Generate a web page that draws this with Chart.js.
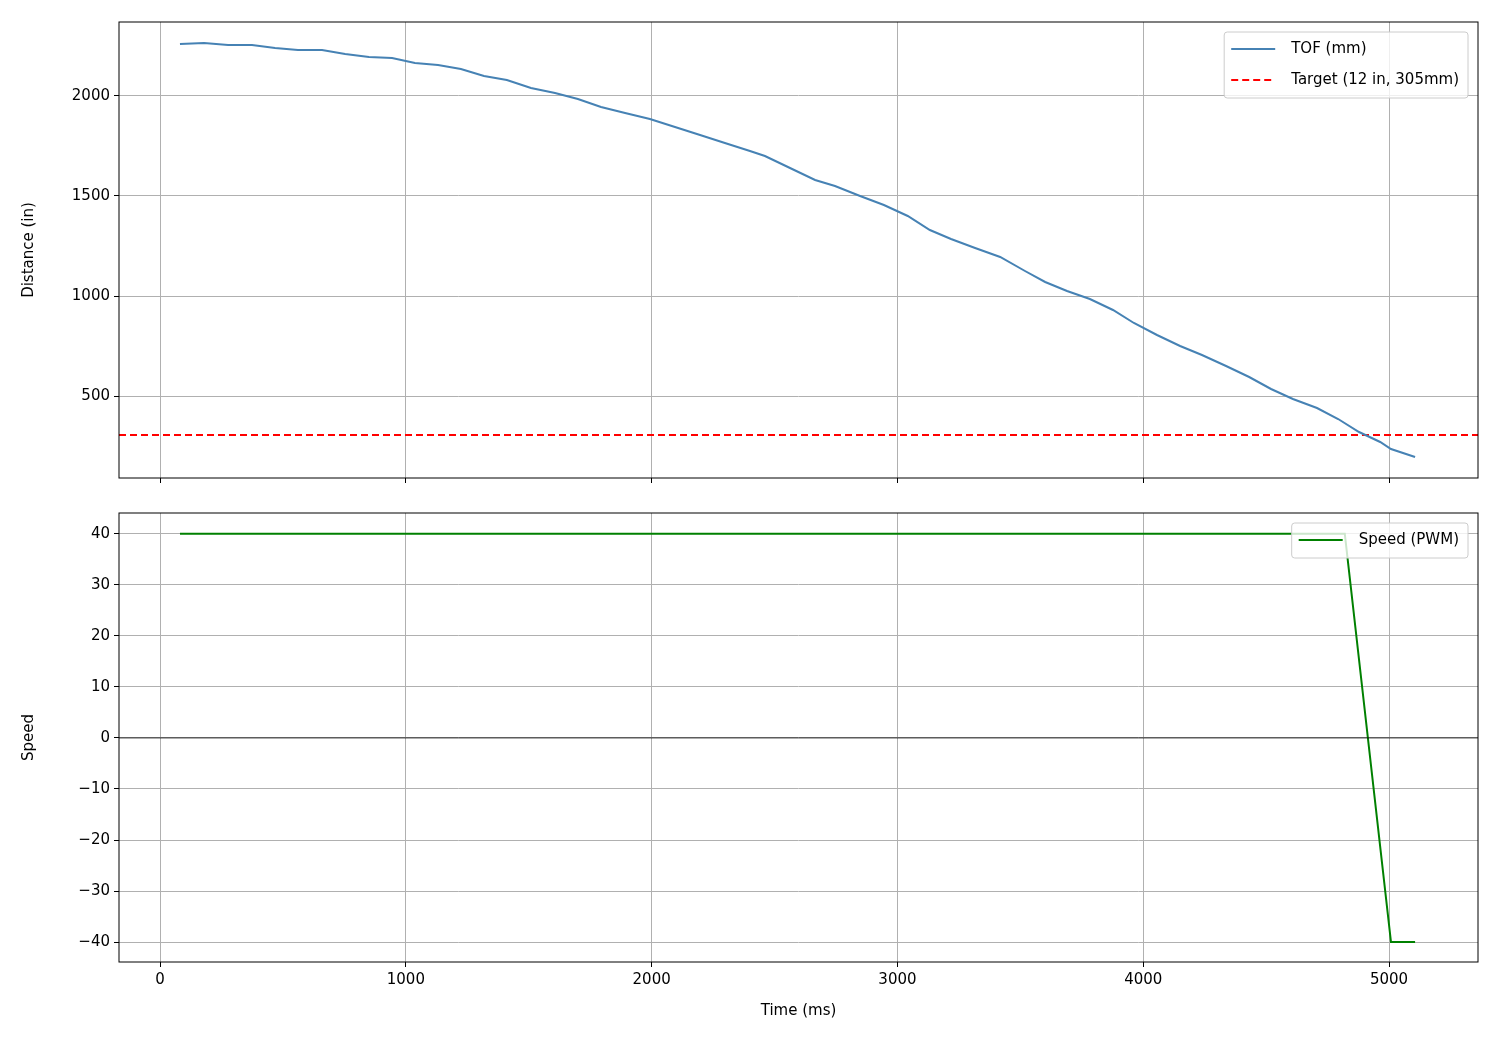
<!DOCTYPE html>
<html>
<head>
<meta charset="utf-8">
<script src="https://cdn.jsdelivr.net/npm/chart.js@4/dist/chart.umd.min.js"></script>
<style>
  body { margin: 0; background: #fff; }
  .box { position: absolute; left: 0; width: 1500px; }
</style>
</head>
<body>
<div class="box" style="top:0;height:500px"><canvas id="top"></canvas></div>
<div class="box" style="top:500px;height:550px"><canvas id="bottom"></canvas></div>
<script>
// data
var timeMs = [81, 179, 277, 374, 468, 561, 659, 753, 850, 944, 1037, 1131, 1224, 1318, 1411, 1509, 1607, 1700, 1794, 1892, 1993, 2095, 2197, 2298, 2400, 2461, 2563, 2665, 2746, 2848, 2945, 3042, 3132, 3218, 3316, 3418, 3519, 3601, 3690, 3783, 3877, 3962, 4056, 4150, 4239, 4337, 4431, 4520, 4609, 4707, 4793, 4878, 4964, 5008, 5106];
var tofMm = [2260, 2265, 2255, 2255, 2240, 2230, 2230, 2210, 2195, 2190, 2165, 2155, 2135, 2100, 2080, 2040, 2015, 1985, 1945, 1915, 1885, 1845, 1805, 1765, 1725, 1700, 1640, 1580, 1550, 1500, 1455, 1400, 1330, 1285, 1240, 1195, 1125, 1070, 1025, 985, 930, 865, 805, 750, 705, 650, 595, 535, 485, 440, 385, 320, 270, 235, 195];
var speedTime = [81, 4820, 5008, 5106];
var speedPwm = [40, 40, -40, -40];
var targetMm = 305;
var xTicks = [0, 1000, 2000, 3000, 4000, 5000];
var distTicks = [500, 1000, 1500, 2000];
var speedTicks = [-40, -30, -20, -10, 0, 10, 20, 30, 40];

Chart.defaults.font.family = "DejaVu Sans";
Chart.defaults.font.size = 15;
Chart.defaults.color = "#000";
Chart.defaults.animation = false;

function pts(xs, ys) {
  var out = [];
  for (var i = 0; i < xs.length; i++) out.push({ x: xs[i], y: ys[i] });
  return out;
}

function plain(v) { return v < 0 ? "\u2212" + Math.abs(v) : "" + v; }

// frame + legend box drawn like matplotlib
function framePlugin(items, zeroLine) {
  return {
    id: "frame",
    afterDatasetsDraw: function (chart) {
      var c = chart.ctx, a = chart.chartArea;
      c.save();
      if (zeroLine) {
        var y0 = chart.scales.y.getPixelForValue(0);
        c.strokeStyle = "#000"; c.lineWidth = 0.8;
        c.beginPath(); c.moveTo(a.left, y0); c.lineTo(a.right, y0); c.stroke();
      }
      c.strokeStyle = "#000"; c.lineWidth = 1;
      c.strokeRect(a.left, a.top, a.right - a.left, a.bottom - a.top);
      c.font = "15px DejaVu Sans";
      var w = 0;
      items.forEach(function (it) { w = Math.max(w, c.measureText(it.text).width); });
      var bw = w + 76, bh = items.length * 31 + 4;
      var bx = a.right - 10 - bw, by = a.top + 10;
      c.fillStyle = "rgba(255,255,255,0.8)";
      c.strokeStyle = "#ccc";
      c.beginPath(); c.roundRect(bx, by, bw, bh, 3); c.fill(); c.stroke();
      items.forEach(function (it, i) {
        var ly = by + 17 + i * 31;
        c.strokeStyle = it.color; c.lineWidth = 2;
        c.setLineDash(it.dash || []);
        c.beginPath(); c.moveTo(bx + 7, ly); c.lineTo(bx + 51, ly); c.stroke();
        c.setLineDash([]);
        c.fillStyle = "#000"; c.textBaseline = "middle";
        c.fillText(it.text, bx + 67, ly);
      });
      c.restore();
    }
  };
}

function xScale(showLabels, height) {
  return {
    type: "linear", min: -167, max: 5362,
    afterBuildTicks: function (s) { s.ticks = xTicks.map(function (v) { return { value: v }; }); },
    afterFit: function (s) { s.height = height; },
    grid: { color: "#b0b0b0", tickColor: "#000", tickLength: 5 },
    border: { display: false },
    ticks: { display: showLabels, maxRotation: 0, padding: 4, callback: plain },
    title: { display: showLabels, text: "Time (ms)", padding: { top: 2 } }
  };
}

function yScale(min, max, list, text) {
  return {
    min: min, max: max,
    afterBuildTicks: function (s) { s.ticks = list.map(function (v) { return { value: v }; }); },
    afterFit: function (s) { s.width = 119; },
    grid: { color: "#b0b0b0", tickColor: "#000", tickLength: 5 },
    border: { display: false },
    ticks: { padding: 4, callback: plain },
    title: { display: true, text: text, padding: { top: 20, bottom: 0 } }
  };
}

new Chart(document.getElementById("top"), {
  type: "line",
  data: {
    datasets: [
      { data: pts(timeMs, tofMm), borderColor: "#4682b4", borderWidth: 2, pointRadius: 0, tension: 0 },
      { data: [{ x: -167, y: targetMm }, { x: 5362, y: targetMm }], borderColor: "#ff0000", borderWidth: 2, borderDash: [7, 4], pointRadius: 0 }
    ]
  },
  options: {
    responsive: true, maintainAspectRatio: false,
    layout: { padding: { top: 22, right: 22, left: 0, bottom: 0 } },
    plugins: { legend: { display: false }, tooltip: { enabled: false } },
    scales: {
      x: xScale(false, 22),
      y: yScale(90, 2370, distTicks, "Distance (in)")
    }
  },
  plugins: [framePlugin([
    { text: "TOF (mm)", color: "#4682b4" },
    { text: "Target (12 in, 305mm)", color: "#ff0000", dash: [7, 4] }
  ], false)]
});

new Chart(document.getElementById("bottom"), {
  type: "line",
  data: {
    datasets: [
      { data: pts(speedTime, speedPwm), borderColor: "#008000", borderWidth: 2, pointRadius: 0, tension: 0 }
    ]
  },
  options: {
    responsive: true, maintainAspectRatio: false,
    layout: { padding: { top: 7, right: 22, left: 0, bottom: 26 } },
    plugins: { legend: { display: false }, tooltip: { enabled: false } },
    scales: {
      x: xScale(true, 62),
      y: yScale(-43.9, 44.06, speedTicks, "Speed")
    }
  },
  plugins: [framePlugin([{ text: "Speed (PWM)", color: "#008000" }], true)]
});
</script>
</body>
</html>
